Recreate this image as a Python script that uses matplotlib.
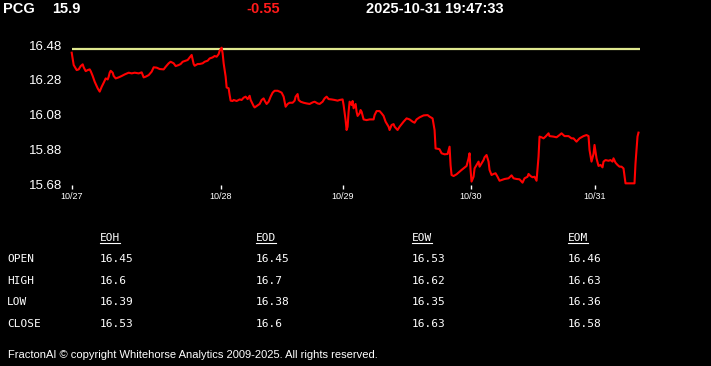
import numpy as np
import matplotlib.pyplot as plt

# header
symbol = "PCG"
last_price = "15.9"
change = "-0.55"
stamp = "2025-10-31 19:47:33"

# intraday series (bar index, price)
bars = [0, 2, 5, 7, 9, 11, 12, 14, 16, 18, 19, 21, 23, 26, 28, 30, 32, 34, 36, 37,
        38, 39, 41, 42, 44, 47, 50, 53, 57, 60, 63, 67, 70, 72, 74, 77, 80, 82, 85, 88,
        92, 94, 97, 99, 102, 104, 107, 109, 111, 113, 116, 118, 120, 122, 123, 126, 128, 131, 133, 136,
        138, 141, 143, 145, 147, 148, 150, 151, 152, 154, 155, 157, 158, 159, 161, 162, 165, 168, 170, 172,
        174, 176, 178, 179, 182, 183, 185, 188, 190, 192, 193, 195, 197, 199, 201, 203, 206, 208, 210, 212,
        214, 216, 218, 221, 223, 224, 226, 227, 229, 232, 235, 238, 241, 243, 246, 248, 251, 253, 255, 257,
        260, 263, 266, 268, 271, 272, 274, 275, 276, 277, 278, 280, 281, 282, 284, 285, 286, 288, 289, 290,
        292, 295, 298, 302, 303, 305, 308, 310, 312, 314, 317, 318, 320, 322, 323, 326, 328, 332, 335, 338,
        341, 343, 345, 348, 352, 356, 358, 361, 363, 364, 367, 368, 370, 373, 376, 378, 379, 380, 382, 385,
        388, 390, 392, 395, 397, 398, 399, 400, 402, 403, 405, 407, 408, 410, 412, 413, 415, 417, 418, 420,
        422, 424, 426, 428, 430, 433, 437, 440, 442, 445, 448, 451, 453, 456, 457, 459, 461, 463, 465, 467,
        468, 470, 472, 474, 477, 478, 482, 485, 488, 490, 493, 497, 500, 502, 505, 508, 512, 515, 517, 518,
        520, 522, 523, 525, 527, 529, 531, 532, 534, 537, 539, 541, 542, 544, 546, 548, 550, 552, 554, 557,
        560, 563, 564, 566, 567]
prices = [16.436, 16.365, 16.336, 16.340, 16.359, 16.369, 16.352, 16.330, 16.336, 16.340, 16.330, 16.302, 16.269, 16.231, 16.212, 16.240, 16.263, 16.288, 16.282, 16.298,
          16.321, 16.332, 16.321, 16.302, 16.288, 16.294, 16.302, 16.311, 16.321, 16.317, 16.321, 16.317, 16.323, 16.294, 16.298, 16.307, 16.327, 16.352, 16.350, 16.342,
          16.340, 16.355, 16.375, 16.384, 16.375, 16.359, 16.365, 16.371, 16.384, 16.388, 16.394, 16.409, 16.423, 16.371, 16.361, 16.371, 16.371, 16.375, 16.384, 16.390,
          16.403, 16.409, 16.417, 16.413, 16.428, 16.447, 16.465, 16.432, 16.375, 16.298, 16.236, 16.231, 16.192, 16.160, 16.158, 16.164, 16.158, 16.167, 16.164, 16.177,
          16.183, 16.169, 16.188, 16.164, 16.129, 16.121, 16.129, 16.141, 16.164, 16.173, 16.160, 16.141, 16.154, 16.183, 16.206, 16.217, 16.217, 16.212, 16.206, 16.183,
          16.125, 16.141, 16.148, 16.148, 16.160, 16.183, 16.198, 16.164, 16.154, 16.148, 16.144, 16.141, 16.150, 16.154, 16.144, 16.141, 16.154, 16.173, 16.183, 16.169,
          16.167, 16.164, 16.160, 16.164, 16.167, 16.135, 16.048, 15.991, 16.010, 16.096, 16.154, 16.135, 16.158, 16.116, 16.141, 16.096, 16.072, 16.087, 16.106, 16.096,
          16.052, 16.048, 16.052, 16.052, 16.077, 16.100, 16.100, 16.087, 16.072, 16.039, 16.010, 15.991, 16.020, 16.025, 16.010, 15.991, 16.010, 16.039, 16.058, 16.052,
          16.039, 16.033, 16.052, 16.064, 16.075, 16.077, 16.068, 16.058, 15.991, 15.885, 15.882, 15.880, 15.857, 15.851, 15.853, 15.895, 15.789, 15.732, 15.726, 15.736,
          15.751, 15.761, 15.770, 15.784, 15.828, 15.857, 15.761, 15.694, 15.722, 15.770, 15.789, 15.809, 15.780, 15.799, 15.818, 15.834, 15.847, 15.809, 15.761, 15.732,
          15.738, 15.742, 15.722, 15.699, 15.703, 15.709, 15.713, 15.730, 15.713, 15.709, 15.707, 15.688, 15.713, 15.722, 15.738, 15.726, 15.719, 15.722, 15.699, 15.837,
          15.953, 15.949, 15.943, 15.953, 15.972, 15.956, 15.953, 15.949, 15.962, 15.972, 15.956, 15.956, 15.943, 15.943, 15.924, 15.943, 15.956, 15.962, 15.956, 15.876,
          15.809, 15.853, 15.905, 15.828, 15.784, 15.790, 15.776, 15.809, 15.818, 15.814, 15.818, 15.809, 15.828, 15.803, 15.790, 15.780, 15.780, 15.770, 15.684, 15.684,
          15.684, 15.684, 15.799, 15.953, 15.976]
ref_level = 16.455

day_bars = [0, 149, 271, 399, 523]
day_labels = ["10/27", "10/28", "10/29", "10/30", "10/31"]
y_ticks = [15.68, 15.88, 16.08, 16.28, 16.48]

# summary table
row_names = ["OPEN", "HIGH", "LOW", "CLOSE"]
col_names = ["EOH", "EOD", "EOW", "EOM"]
eoh = ["16.45", "16.6", "16.39", "16.53"]
eod = ["16.45", "16.7", "16.38", "16.6"]
eow = ["16.53", "16.62", "16.35", "16.63"]
eom = ["16.46", "16.63", "16.36", "16.58"]
table_cols = [eoh, eod, eow, eom]

W, H = 711, 366
fig = plt.figure(figsize=(W / 100, H / 100), dpi=100, facecolor="black")
ax = fig.add_axes([71.7 / W, (H - 184.9) / H, (640 - 71.7) / W, (184.9 - 44.2) / H])
ax.set_facecolor("black")

ax.axhline(ref_level, color="#dfe88f", lw=1.6)
ax.plot(bars, prices, color="#ff0000", lw=1.5, clip_on=False)

ax.set_xlim(0, 568.5)
ax.set_ylim(15.675, 16.485)
ax.set_yticks(y_ticks)
ax.set_yticklabels([f"{v:.2f}" for v in y_ticks], fontsize=9.5, color="white",
                   family="Liberation Sans")
ax.set_xticks(day_bars)
ax.set_xticklabels(day_labels, fontsize=6.5, color="white", family="Liberation Sans")
ax.tick_params(axis="y", length=0, pad=7)
ax.tick_params(axis="x", length=3, width=1, color="white", pad=2)
for s in ax.spines.values():
    s.set_visible(False)

sans = ["Liberation Sans", "DejaVu Sans"]
hdr = dict(color="white", fontsize=10.5, fontweight="bold", family=sans, va="center")
fig.text(3 / W, 1 - 9 / H, symbol, **hdr)
fig.text(52 / W, 1 - 9 / H, last_price, **hdr)
fig.text(246 / W, 1 - 9 / H, change, **{**hdr, "color": "#ff1a1a"})
fig.text(366 / W, 1 - 9 / H, stamp, **hdr)

mono = dict(color="white", fontsize=8, family="DejaVu Sans Mono", va="center")
col_x = [100, 256, 412, 568]
row_y = [259, 280.5, 302, 324]
heads = []
for x, name in zip(col_x, col_names):
    heads.append(fig.text(x / W, 1 - 238 / H, name, **mono))
for y, name in zip(row_y, row_names):
    fig.text(7 / W, 1 - y / H, name, **mono)
for x, col in zip(col_x, table_cols):
    for y, v in zip(row_y, col):
        fig.text(x / W, 1 - y / H, v, **mono)

fig.text(8 / W, 1 - 355 / H,
         "FractonAI \u00a9 copyright Whitehorse Analytics 2009-2025. All rights reserved.",
         color="white", fontsize=8, family=sans, va="center")

# underline the column headers
fig.canvas.draw()
r = fig.canvas.get_renderer()
for t in heads:
    bb = t.get_window_extent(r)
    yy = (bb.y0 - 0.5) / H
    fig.add_artist(plt.Line2D([bb.x0 / W, bb.x1 / W], [yy, yy], color="white", lw=0.8))

fig.savefig("out.png", dpi=100, facecolor="black")
